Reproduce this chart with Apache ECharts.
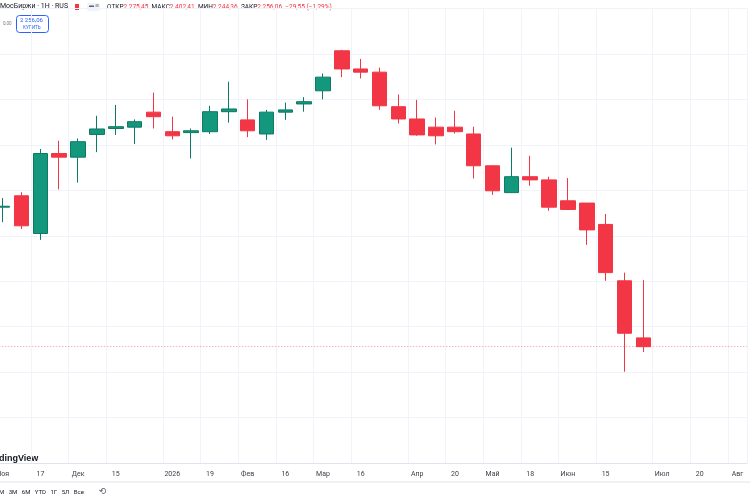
<!DOCTYPE html>
<html>
<head>
<meta charset="utf-8">
<script src="https://cdn.jsdelivr.net/npm/echarts@6/dist/echarts.min.js"></script>
<style>
  html, body { margin: 0; padding: 0; background: #fff; }
  #chart { width: 750px; height: 500px; }
</style>
</head>
<body>
<div id="chart"></div>
<script>
// weekly candles, MOEX index
var weeks = ['2025-11-03', '2025-11-10', '2025-11-17', '2025-11-24', '2025-12-01', '2025-12-08', '2025-12-15', '2025-12-22', '2025-12-29',
  '2026-01-05', '2026-01-12', '2026-01-19', '2026-01-26', '2026-02-02', '2026-02-09', '2026-02-16', '2026-02-23',
  '2026-03-02', '2026-03-09', '2026-03-16', '2026-03-23', '2026-03-30', '2026-04-06', '2026-04-13', '2026-04-20', '2026-04-27',
  '2026-05-04', '2026-05-11', '2026-05-18', '2026-05-25', '2026-06-01', '2026-06-08', '2026-06-15', '2026-06-22', '2026-06-29',
  '2026-07-06', '2026-07-13', '2026-07-20', '2026-07-27', '2026-08-03'];
var tickLabels = ['Ноя', '', '17', '', 'Дек', '', '15', '', '',
  '2026', '', '19', '', 'Фев', '', '16', '',
  'Мар', '', '16', '', '', 'Апр', '', '20', '',
  'Май', '', '18', '', 'Июн', '', '15', '', '',
  'Июл', '', '20', '', 'Авг'];

var opens  = [2563, 2588, 2505, 2681, 2673, 2723, 2736, 2739, 2772, 2729, 2727, 2729, 2773, 2755, 2724, 2772, 2790, 2819,
  2907, 2867, 2860, 2784, 2757, 2739, 2739, 2724, 2654, 2595, 2630, 2623, 2577, 2572, 2525, 2401, 2275.45];
var closes = [2565, 2522, 2681, 2673, 2707, 2735, 2740, 2751, 2762, 2720, 2731, 2773, 2779, 2731, 2772, 2777, 2795, 2849,
  2867, 2860, 2786, 2757, 2722, 2720, 2729, 2654, 2599, 2630, 2623, 2563, 2558, 2513, 2419, 2285.61, 2256.06];
var lows   = [2530, 2515, 2491, 2602, 2617, 2684, 2722, 2702, 2736, 2712, 2670, 2724, 2749, 2717, 2711, 2755, 2773, 2800,
  2849, 2846, 2777, 2747, 2720, 2701, 2725, 2626, 2590, 2594, 2610, 2555, 2557, 2480, 2401, 2201, 2244.36];
var highs  = [2583, 2596, 2691, 2709, 2714, 2764, 2788, 2756, 2815, 2762, 2736, 2786, 2839, 2800, 2777, 2793, 2805, 2857,
  2909, 2889, 2870, 2811, 2799, 2760, 2775, 2740, 2655, 2694, 2676, 2630, 2627, 2572, 2548, 2419, 2402.41];

var lastClose = 2256.06;

var candles = [];
for (var i = 0; i < opens.length; i++) {
  candles.push([opens[i], closes[i], lows[i], highs[i]]);
}

var up = '#13987e';
var down = '#f23645';
var textColor = '#131722';

var chart = echarts.init(document.getElementById('chart'));

var option = {
  animation: false,
  grid: { left: -6.7, right: 3.1, top: 8.5, bottom: 36.9, outerBoundsMode: 'none', containLabel: false },
  xAxis: {
    type: 'category',
    data: weeks,
    boundaryGap: true,
    axisLine: { show: true, lineStyle: { color: '#e0e3eb' } },
    axisTick: { show: false },
    axisLabel: {
      interval: function (idx) { return tickLabels[idx] !== ''; },
      formatter: function (v, idx) { return tickLabels[idx]; },
      color: '#3b3f4a',
      fontSize: 7,
      fontFamily: 'Roboto',
      margin: 8
    },
    splitLine: {
      show: true,
      interval: function (idx) { return tickLabels[idx] !== ''; },
      lineStyle: { color: '#f0f3fa', width: 1 }
    }
  },
  yAxis: {
    type: 'value',
    min: 2000,
    max: 3000,
    interval: 100,
    axisLine: { show: false },
    axisTick: { show: false },
    axisLabel: { show: false },
    splitLine: { lineStyle: { color: '#f0f3fa', width: 1 } }
  },
  series: [
    {
      name: 'IMOEX',
      type: 'candlestick',
      data: candles,
      barWidth: 15,
      itemStyle: {
        color: up,
        color0: down,
        borderColor: '#0d7a64',
        borderColor0: '#f23645',
        borderWidth: 1
      },
      markLine: {
        silent: true,
        symbol: ['none', 'none'],
        label: { show: false },
        lineStyle: { color: '#f23645', type: [1, 2], width: 1, opacity: 0.55 },
        data: [{ yAxis: lastClose }]
      }
    }
  ],
  graphic: [
    {
      type: 'text', left: 0, top: 3,
      style: { text: 'МосБиржи · 1Н · RUS', fill: textColor, font: '7px Roboto' }
    },
    { type: 'rect', left: 75, top: 4, shape: { width: 4, height: 6 }, style: { fill: '#f23645' } },
    { type: 'rect', left: 87, top: 3, shape: { width: 13, height: 8, r: 2 }, style: { fill: '#f0f3fa' } },
    { type: 'text', left: 89, top: 3.5, style: { text: '▬ ≋', fill: '#5d606b', font: '5px Roboto' } },
    {
      type: 'text', left: 107, top: 4,
      style: {
        text: 'ОТКР{r|2 275,45}  МАКС{r|2 402,41}  МИН{r|2 244,36}  ЗАКР{r|2 256,06}  {r|−29,55 (−1,29%)}',
        fill: textColor,
        font: '6.5px Roboto',
        rich: { r: { fill: '#f23645', font: '6.5px Roboto' } }
      }
    },
    { type: 'text', left: 3, top: 21, style: { text: '0,00', fill: '#787b86', font: '4.5px Roboto' } },
    {
      type: 'rect', left: 16, top: 15,
      shape: { width: 32, height: 17, r: 3 },
      style: { fill: '#fff', stroke: '#2962ff', lineWidth: 1 }
    },
    { type: 'text', left: 20, top: 17, style: { text: '2 256,06', fill: '#2962ff', font: '6px Roboto' } },
    { type: 'text', left: 23, top: 25, style: { text: 'КУПИТЬ', fill: '#2962ff', font: '4.5px Roboto' } },
    {
      type: 'text', left: -1, top: 454,
      style: { text: 'dingView', fill: textColor, font: 'bold 9px "Liberation Sans"' }
    },
    {
      type: 'line', shape: { x1: 0, y1: 482, x2: 750, y2: 482 },
      style: { stroke: '#e0e3eb', lineWidth: 1 }
    },
    {
      type: 'text', left: -1, top: 489,
      style: { text: 'М   3М   6М   YTD   1Г   5Л   Все', fill: textColor, font: '6px Roboto' }
    },
    {
      type: 'text', left: 99, top: 487,
      style: { text: '⟲', fill: '#5d606b', font: '9px "DejaVu Sans"' }
    }
  ]
};

chart.setOption(option);
</script>
</body>
</html>
